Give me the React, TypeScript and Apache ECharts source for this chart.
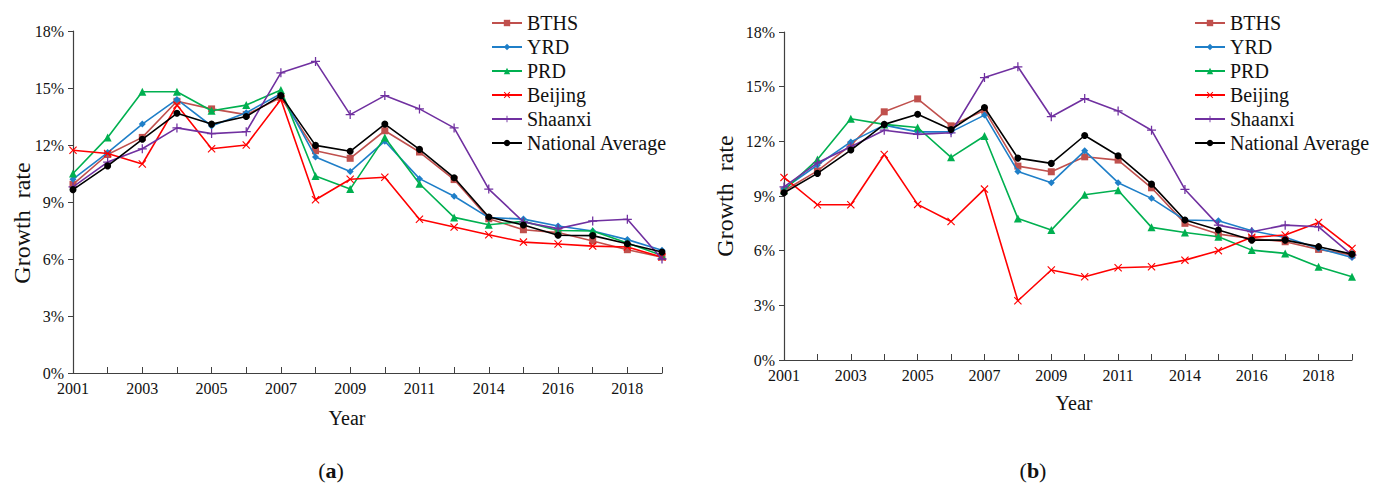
import React, { useEffect, useRef } from "react";
import * as echarts from "echarts";

const years = ["2001","2002","2003","2004","2005","2006","2007","2008","2009","2010","2011","2012","2014","2015","2016","2017","2018","2019"];
const yTicks = [0, 3, 6, 9, 12, 15, 18];

const names = ["BTHS", "YRD", "PRD", "Beijing", "Shaanxi", "National Average"];

const bthsA = [9.93, 11.5, 12.4, 14.3, 13.9, 13.6, 14.5, 11.7, 11.3, 12.75, 11.63, 10.18, 8.12, 7.54, 7.39, 6.95, 6.49, 6.1];
const yrdA = [10.2, 11.6, 13.1, 14.4, 13.0, 13.7, 14.7, 11.37, 10.6, 12.2, 10.23, 9.3, 8.18, 8.1, 7.74, 7.47, 7.02, 6.46];
const prdA = [10.5, 12.4, 14.8, 14.8, 13.8, 14.1, 14.9, 10.37, 9.68, 12.4, 9.96, 8.19, 7.8, 7.98, 7.5, 7.47, 6.84, 6.19];
const beijingA = [11.72, 11.55, 11.0, 14.1, 11.8, 12.0, 14.4, 9.12, 10.2, 10.3, 8.09, 7.68, 7.28, 6.89, 6.79, 6.68, 6.63, 6.1];
const shaanxiA = [9.8, 11.1, 11.8, 12.9, 12.6, 12.7, 15.8, 16.4, 13.6, 14.6, 13.9, 12.9, 9.68, 7.95, 7.6, 8.0, 8.09, 6.0];
const nationalA = [9.65, 10.9, 12.3, 13.67, 13.1, 13.5, 14.6, 11.98, 11.67, 13.1, 11.77, 10.28, 8.21, 7.79, 7.25, 7.23, 6.8, 6.37];

const bthsB = [9.29, 10.38, 11.79, 13.62, 14.33, 12.85, 13.71, 10.64, 10.33, 11.15, 10.97, 9.45, 7.5, 6.91, 6.67, 6.49, 6.07, 5.76];
const yrdB = [9.4, 10.7, 11.97, 12.89, 12.52, 12.52, 13.44, 10.35, 9.73, 11.48, 9.73, 8.87, 7.68, 7.64, 7.09, 6.73, 6.12, 5.63];
const prdB = [9.32, 11.0, 13.24, 12.93, 12.76, 11.12, 12.29, 7.77, 7.13, 9.07, 9.32, 7.28, 7.0, 6.76, 6.03, 5.85, 5.12, 4.57];
const beijingB = [10.02, 8.52, 8.52, 11.28, 8.54, 7.6, 9.38, 3.25, 4.94, 4.57, 5.06, 5.12, 5.48, 6.0, 6.73, 6.86, 7.55, 6.12];
const shaanxiB = [9.5, 10.82, 11.7, 12.61, 12.38, 12.47, 15.5, 16.09, 13.35, 14.35, 13.67, 12.61, 9.36, 7.4, 7.04, 7.4, 7.31, 5.76];
const nationalB = [9.18, 10.24, 11.52, 12.93, 13.49, 12.65, 13.86, 11.08, 10.79, 12.32, 11.21, 9.65, 7.68, 7.13, 6.58, 6.58, 6.22, 5.81];

const colors = ["#C0504D", "#1F7FC8", "#00B050", "#FF0000", "#7030A0", "#000000"];
const symbols = [
  "rect",
  "diamond",
  "triangle",
  "path://M1,0 L5,4 L9,0 L10,1 L6,5 L10,9 L9,10 L5,6 L1,10 L0,9 L4,5 L0,1 Z",
  "path://M4.3,0 H5.7 V4.3 H10 V5.7 H5.7 V10 H4.3 V5.7 H0 V4.3 H4.3 Z",
  "circle",
];
const symbolSizes = [7, 7, 8, 8, 9, 7];

const FONT = "'Liberation Serif', serif";
const AXIS_COLOR = "#404040";

export default function App() {
  const ref = useRef<HTMLDivElement>(null);
  useEffect(() => {
    if (!ref.current) return;
    const chart = echarts.init(ref.current, undefined, { renderer: "svg" });
    const dataA = [bthsA, yrdA, prdA, beijingA, shaanxiA, nationalA];
    const dataB = [bthsB, yrdB, prdB, beijingB, shaanxiB, nationalB];

    const mkSeries = (data: number[][], idx: number) =>
      data.map((d, i) => ({
        type: "line",
        name: names[i],
        xAxisIndex: idx,
        yAxisIndex: idx,
        data: d,
        symbol: symbols[i],
        symbolSize: symbolSizes[i],
        showAllSymbol: true,
        lineStyle: { color: colors[i], width: 1.6 },
        itemStyle: { color: colors[i] },
        z: i === 5 ? 10 : 2 + i,
      }));

    const xAxis = (gi: number, margin: number) => ({
      type: "category",
      gridIndex: gi,
      data: years,
      boundaryGap: false,
      axisLine: { lineStyle: { color: AXIS_COLOR, width: 1.2 } },
      axisTick: { inside: true, length: 6, interval: 0, lineStyle: { color: AXIS_COLOR } },
      axisLabel: { interval: 1, margin, color: "#111", fontFamily: FONT, fontSize: 16 },
      splitLine: { show: false },
    });
    const yAxis = (gi: number) => ({
      type: "value",
      gridIndex: gi,
      min: yTicks[0],
      max: yTicks[yTicks.length - 1],
      interval: 3,
      axisLine: { show: true, lineStyle: { color: AXIS_COLOR, width: 1.2 } },
      axisTick: { show: true, length: 5, lineStyle: { color: AXIS_COLOR } },
      axisLabel: { formatter: "{value}%", margin: 9, color: "#111", fontFamily: FONT, fontSize: 16, lineHeight: 14 },
      splitLine: { show: false },
    });
    const legend = (left: number) => ({
      orient: "vertical",
      left,
      top: 8,
      itemWidth: 30,
      itemHeight: 8,
      itemGap: 4,
      data: names,
      textStyle: { fontFamily: FONT, fontSize: 20, color: "#111" },
    });

    chart.setOption({
      animation: false,
      textStyle: { fontFamily: FONT },
      grid: [
        { left: 73, right: 724, top: 31, bottom: 116 },
        { left: 784, right: 34, top: 32, bottom: 129 },
      ],
      xAxis: [xAxis(0, 7), xAxis(1, 7)],
      yAxis: [yAxis(0), yAxis(1)],
      legend: [legend(486), legend(1189)],
      series: [...mkSeries(dataA, 0), ...mkSeries(dataB, 1)],
      graphic: [
        { type: "text", x: 22, y: 223, rotation: Math.PI / 2, style: { text: "Growth  rate", font: `24px ${FONT}`, fill: "#111", align: "center", verticalAlign: "middle" } },
        { type: "text", x: 725, y: 196, rotation: Math.PI / 2, style: { text: "Growth  rate", font: `24px ${FONT}`, fill: "#111", align: "center", verticalAlign: "middle" } },
        { type: "text", x: 347, y: 418, style: { text: "Year", font: `20px ${FONT}`, fill: "#111", align: "center", verticalAlign: "middle" } },
        { type: "text", x: 1074, y: 403, style: { text: "Year", font: `20px ${FONT}`, fill: "#111", align: "center", verticalAlign: "middle" } },
        { type: "text", x: 331, y: 470, style: { text: "({b|a})", font: `22px ${FONT}`, fill: "#111", align: "center", verticalAlign: "middle", rich: { b: { fontWeight: "bold", fontSize: 22, fontFamily: FONT } } } },
        { type: "text", x: 1033, y: 470, style: { text: "({b|b})", font: `22px ${FONT}`, fill: "#111", align: "center", verticalAlign: "middle", rich: { b: { fontWeight: "bold", fontSize: 22, fontFamily: FONT } } } },
      ],
    });
    return () => chart.dispose();
  }, []);
  return <div ref={ref} style={{ position: "fixed", left: 0, top: 0, width: 1386, height: 489, background: "#fff" }} />;
}
